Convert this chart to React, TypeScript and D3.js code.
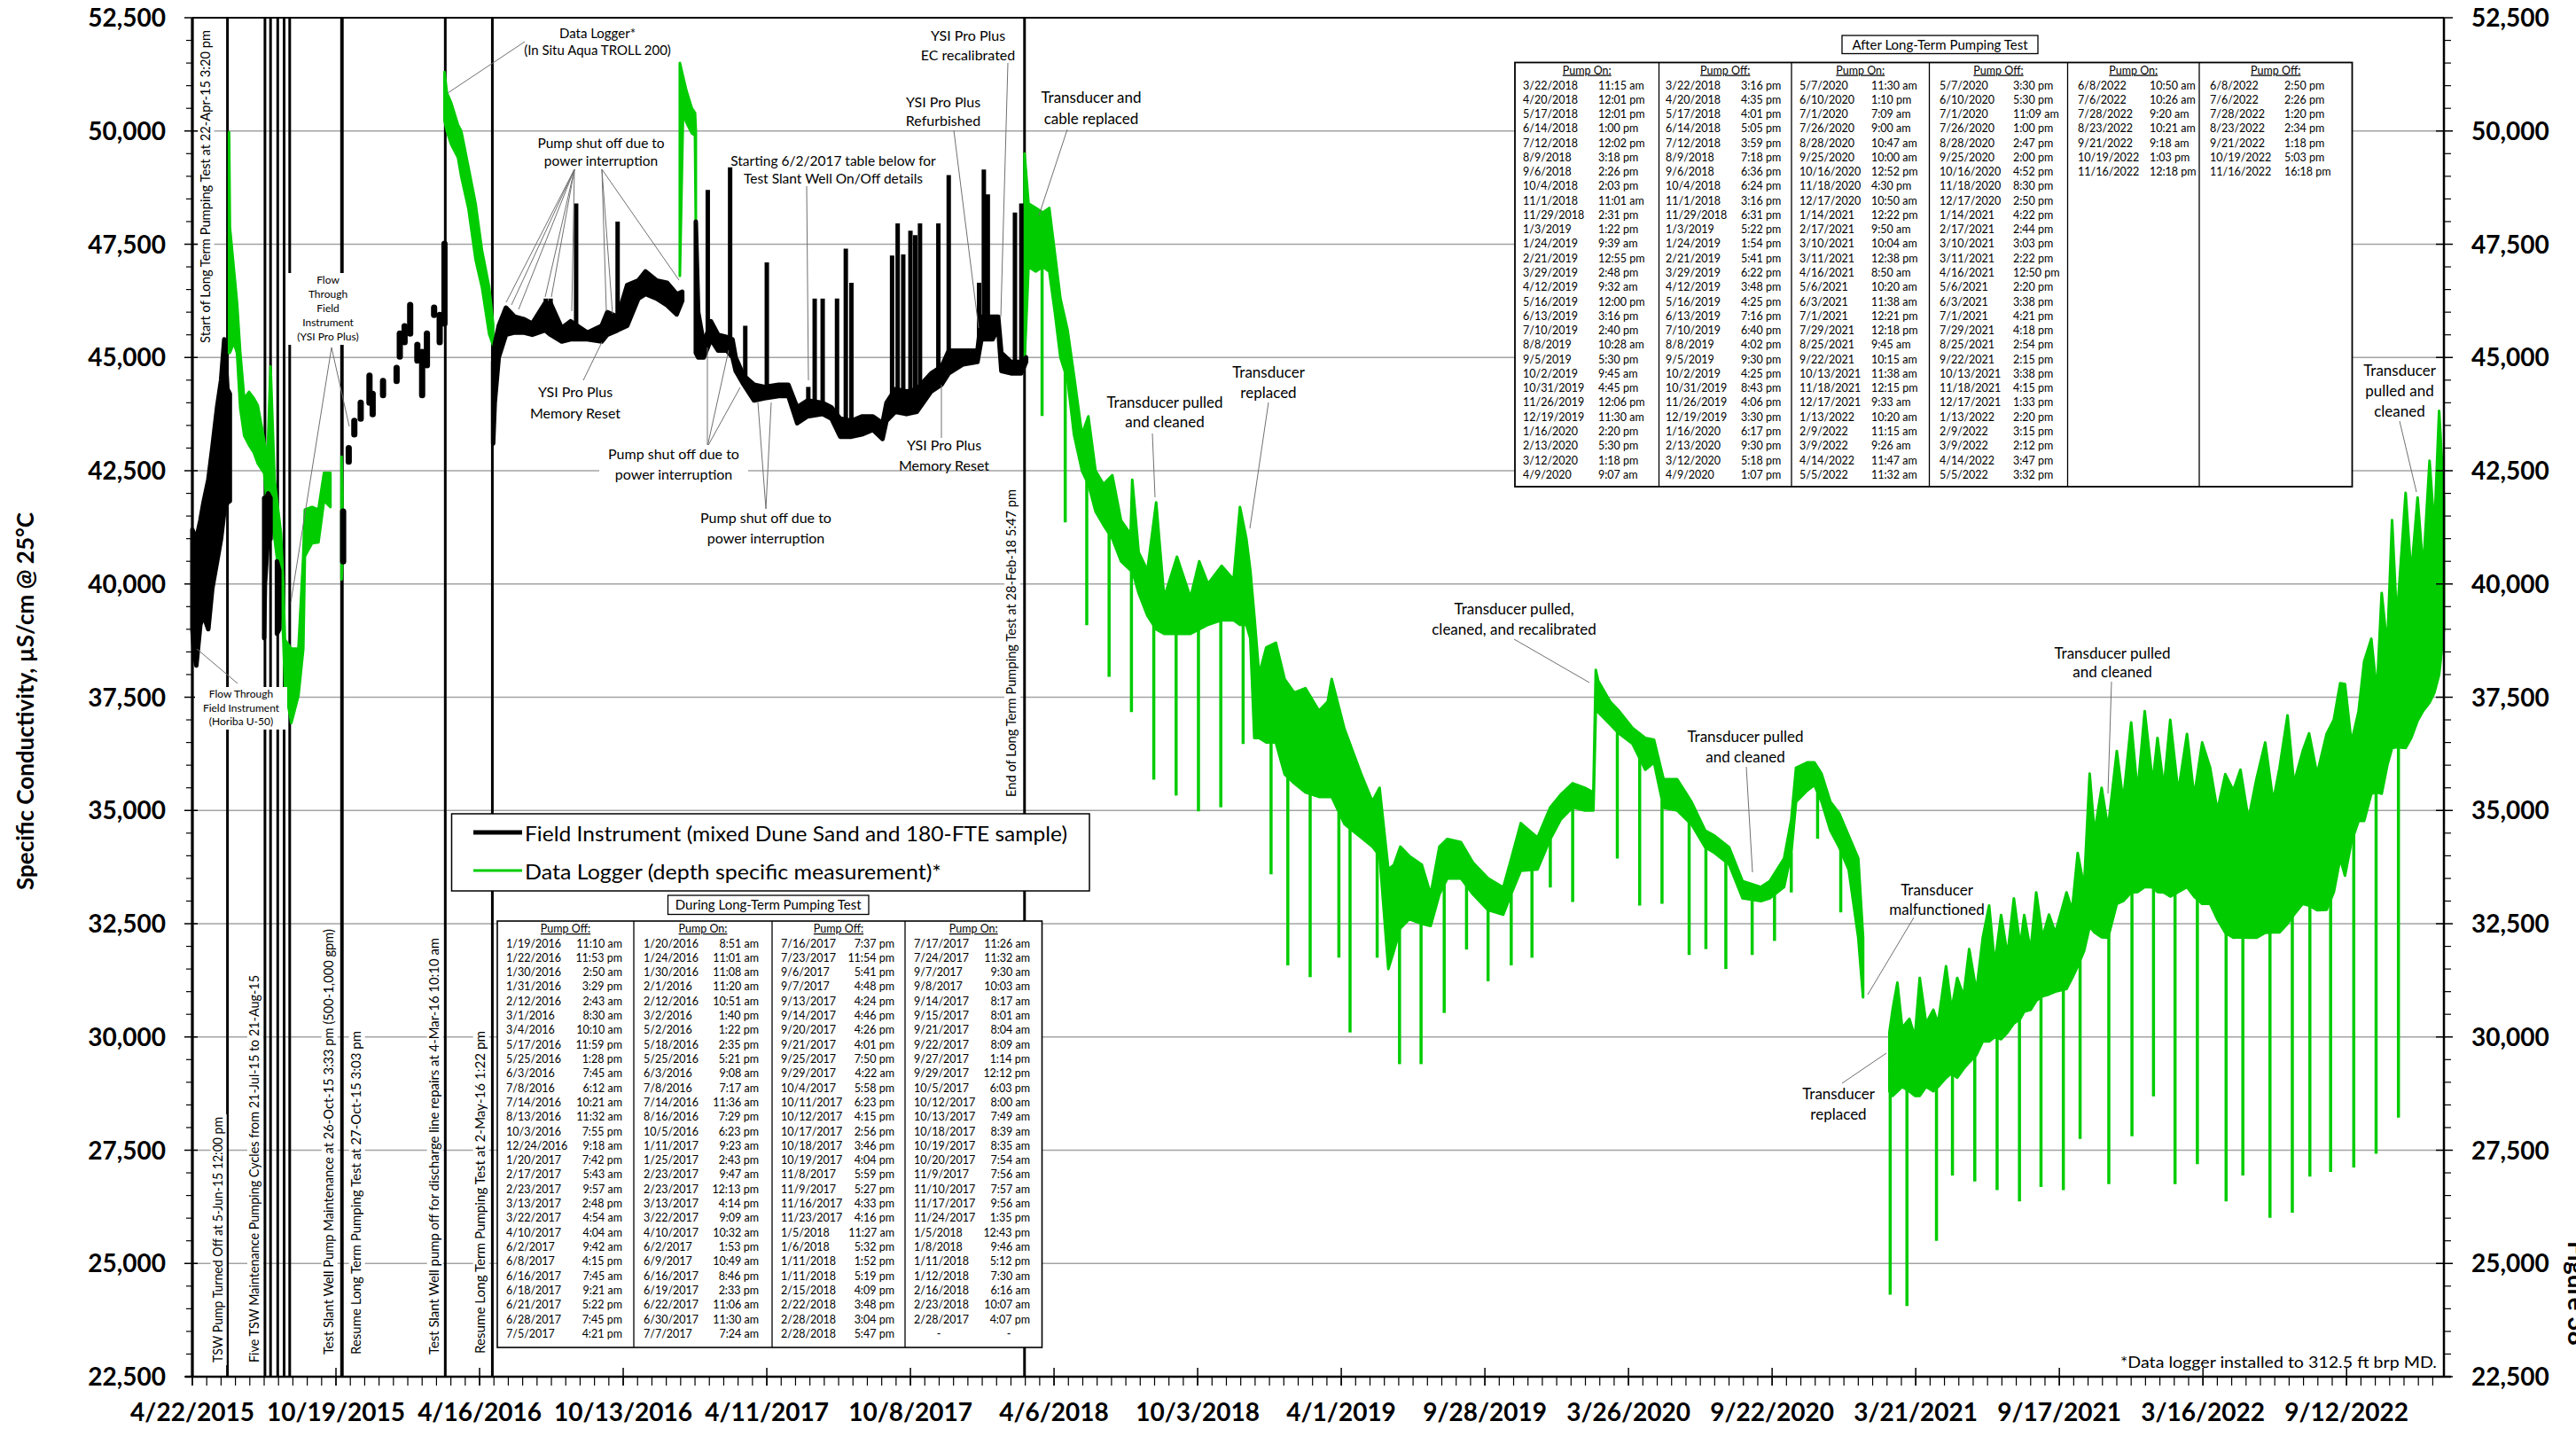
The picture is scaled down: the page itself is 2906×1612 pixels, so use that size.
import React from "react";
import * as d3 from "d3";

type Band = [string, number, number];
type Pt = [string, number];
type Row = [string, string];

// ---------- axis ticks ----------
const yTickValues = [22500, 25000, 27500, 30000, 32500, 35000, 37500, 40000, 42500, 45000, 47500, 50000, 52500];
const xTickLabels = ["4/22/2015", "10/19/2015", "4/16/2016", "10/13/2016", "4/11/2017", "10/8/2017", "4/6/2018", "10/3/2018", "4/1/2019", "9/28/2019", "3/26/2020", "9/22/2020", "3/21/2021", "9/17/2021", "3/16/2022", "9/12/2022"];
const axisStart = "2015-04-22";
const axisEnd = "2023-01-12";

// ---------- event lines ----------
const eventDates = ["2015-04-22", "2015-06-05", "2015-07-22", "2015-07-29", "2015-08-07", "2015-08-15", "2015-08-22", "2015-10-26", "2015-10-27", "2016-03-04", "2016-05-02", "2018-02-28"];

// ---------- Data logger (green) : [date, low, high] ----------
const greenLogger2015: Band[] = [
  ["2015-06-07", 45100, 49970], ["2015-06-08", 45110, 47880], ["2015-06-13", 45320, 46950], ["2015-06-17", 45100, 46200],
  ["2015-06-21", 43890, 45110], ["2015-06-26", 43270, 44090], ["2015-07-02", 43070, 44240], ["2015-07-08", 42900, 44100],
  ["2015-07-13", 42660, 43940], ["2015-07-21", 42450, 43170], ["2015-07-25", 41640, 42660], ["2015-07-29", 41500, 44800],
  ["2015-08-03", 41000, 42300], ["2015-08-11", 39900, 41120], ["2015-08-14", 38800, 40000], ["2015-08-16", 37750, 38770],
  ["2015-08-24", 36930, 38570], ["2015-09-02", 37540, 38570], ["2015-09-08", 38570, 40610], ["2015-09-10", 40610, 41640],
  ["2015-09-19", 40900, 41700], ["2015-09-27", 40920, 41640], ["2015-10-04", 41840, 42450], ["2015-10-12", 41700, 42450],
];
const greenLogger2015Oct: Band[] = [["2015-10-26", 40100, 42810], ["2015-10-27", 40500, 42000]];
const greenLogger2016: Band[] = [
  ["2016-03-03", 50230, 51300], ["2016-03-06", 50000, 50840], ["2016-03-11", 49720, 50640], ["2016-03-20", 49410, 50130],
  ["2016-03-24", 49000, 50000], ["2016-04-02", 48290, 49200], ["2016-04-11", 47160, 48390], ["2016-04-19", 46550, 47360],
  ["2016-04-28", 45520, 46550], ["2016-05-03", 45270, 45730],
];
const greenLogger2016Dec: Band[] = [
  ["2016-12-23", 46800, 51500], ["2016-12-27", 50400, 51200], ["2016-12-31", 50200, 50900], ["2017-01-07", 49950, 50500],
  ["2017-01-11", 49900, 50400], ["2017-01-12", 48000, 50000],
];
const greenLogger2018: Band[] = [
  ["2018-02-28", 44900, 49500], ["2018-03-05", 47000, 48400], ["2018-03-14", 46900, 48300], ["2018-03-23", 47000, 48200],
  ["2018-03-31", 46900, 48300], ["2018-04-07", 46000, 47300], ["2018-04-14", 45000, 46300], ["2018-04-23", 44500, 45600],
  ["2018-05-01", 43300, 44600], ["2018-05-11", 42500, 43300], ["2018-05-19", 42200, 43700], ["2018-05-28", 41600, 42500],
  ["2018-06-07", 41300, 42200], ["2018-06-18", 41000, 42400], ["2018-06-29", 40500, 41400], ["2018-07-11", 40300, 41100],
  ["2018-07-13", 40300, 42300], ["2018-07-21", 39800, 40700], ["2018-08-01", 39300, 40300], ["2018-08-12", 39000, 41800],
  ["2018-08-22", 38900, 39700], ["2018-09-07", 38900, 40600], ["2018-09-24", 38900, 39700], ["2018-10-05", 39000, 40500],
  ["2018-10-16", 39100, 40000], ["2018-11-02", 39200, 40400], ["2018-11-17", 39200, 40100], ["2018-11-25", 39100, 41700],
  ["2018-12-03", 39100, 41000], ["2018-12-08", 38800, 40300], ["2018-12-13", 36600, 39300], ["2018-12-19", 36600, 38000],
  ["2018-12-28", 36500, 38600], ["2019-01-09", 36500, 38700], ["2019-01-20", 35800, 37900], ["2019-02-01", 35600, 37600],
  ["2019-02-15", 35400, 37700], ["2019-03-04", 35300, 37200], ["2019-03-15", 35300, 37400], ["2019-03-20", 35300, 37900],
  ["2019-04-05", 34700, 36800], ["2019-04-26", 34400, 35800], ["2019-05-10", 34200, 35200], ["2019-05-19", 34000, 35500],
  ["2019-05-30", 31500, 33700], ["2019-06-06", 31900, 33800], ["2019-06-14", 32400, 34200], ["2019-06-25", 32600, 34000],
  ["2019-07-11", 32500, 33800], ["2019-07-22", 32450, 33150], ["2019-08-02", 33150, 34200], ["2019-08-12", 33500, 34370],
  ["2019-08-29", 33500, 34300], ["2019-09-13", 33150, 33850], ["2019-10-02", 32800, 33500], ["2019-10-21", 32700, 33300],
  ["2019-11-01", 33200, 34000], ["2019-11-12", 33670, 34720], ["2019-12-03", 33700, 34400], ["2019-12-19", 34370, 35070],
  ["2020-01-01", 34800, 35350], ["2020-01-16", 35070, 35600], ["2020-01-31", 35000, 35500], ["2020-02-11", 35000, 35400],
  ["2020-02-14", 37200, 38100], ["2020-02-17", 37170, 37860], ["2020-03-03", 36900, 37400], ["2020-03-14", 36700, 37200],
  ["2020-03-31", 36470, 36820], ["2020-04-16", 35900, 36600], ["2020-04-27", 36060, 36560], ["2020-05-09", 35060, 35690],
  ["2020-05-26", 35000, 35690], ["2020-06-13", 34690, 35190], ["2020-06-30", 34190, 34560], ["2020-07-12", 34060, 34440],
  ["2020-07-30", 33810, 34190], ["2020-08-16", 33060, 33440], ["2020-09-08", 33000, 33310], ["2020-09-19", 33060, 33440],
  ["2020-10-07", 33310, 33940], ["2020-10-16", 34060, 34800], ["2020-10-22", 35190, 35940], ["2020-11-05", 35440, 36060],
  ["2020-11-14", 35560, 36060], ["2020-11-23", 35190, 35810], ["2020-12-04", 34560, 35190], ["2020-12-15", 34190, 34940],
  ["2020-12-27", 33690, 34440], ["2021-01-08", 32190, 33940], ["2021-01-14", 30875, 32190],
];
const greenLogger2021: Band[] = [
  ["2021-02-16", 28800, 30100], ["2021-02-20", 28700, 30600], ["2021-02-26", 28800, 31200], ["2021-03-04", 28900, 30200],
  ["2021-03-13", 28800, 30400], ["2021-03-20", 28700, 30000], ["2021-03-26", 28700, 31300], ["2021-04-03", 28900, 30300],
  ["2021-04-12", 28800, 30600], ["2021-04-18", 28900, 30300], ["2021-04-28", 29100, 31560], ["2021-05-05", 29200, 30600],
  ["2021-05-12", 29100, 31300], ["2021-05-20", 29300, 30900], ["2021-05-27", 29440, 31940], ["2021-06-05", 29600, 31000],
  ["2021-06-13", 29900, 32190], ["2021-06-21", 29900, 32900], ["2021-06-28", 30000, 31600], ["2021-07-06", 29950, 32690],
  ["2021-07-14", 30100, 31800], ["2021-07-22", 30300, 33060], ["2021-07-30", 30400, 32000], ["2021-08-04", 30560, 32690],
  ["2021-08-12", 30600, 31900], ["2021-08-19", 30800, 33190], ["2021-08-27", 30900, 32200], ["2021-09-04", 30940, 32700],
  ["2021-09-12", 31000, 32300], ["2021-09-26", 31060, 33190], ["2021-10-03", 31300, 32800], ["2021-10-10", 31560, 34060],
  ["2021-10-18", 31900, 33300], ["2021-10-25", 32440, 35810], ["2021-10-31", 32310, 34500], ["2021-11-09", 32200, 35500],
  ["2021-11-17", 32190, 34600], ["2021-11-28", 32940, 36310], ["2021-12-06", 33000, 35200], ["2021-12-16", 33190, 36940],
  ["2021-12-24", 33200, 35400], ["2022-01-02", 33310, 37190], ["2022-01-12", 33300, 35600], ["2022-01-18", 33200, 36600],
  ["2022-01-26", 33190, 35500], ["2022-02-03", 33100, 37000], ["2022-02-13", 33200, 35400], ["2022-02-24", 33310, 36690],
  ["2022-03-05", 33100, 35300], ["2022-03-15", 32940, 36500], ["2022-03-25", 32940, 35940], ["2022-04-03", 32600, 35000],
  ["2022-04-13", 32300, 35800], ["2022-04-23", 32190, 35440], ["2022-05-02", 32200, 35900], ["2022-05-12", 32190, 34800],
  ["2022-05-22", 32190, 35690], ["2022-06-02", 32300, 36500], ["2022-06-12", 32310, 35200], ["2022-06-20", 32310, 35940],
  ["2022-06-30", 32500, 37100], ["2022-07-08", 32700, 35600], ["2022-07-19", 32940, 36310], ["2022-07-27", 32900, 36700],
  ["2022-08-06", 32800, 35800], ["2022-08-18", 32810, 36690], ["2022-08-27", 33200, 37000], ["2022-09-04", 33940, 37810],
  ["2022-09-10", 33560, 37790], ["2022-09-18", 34300, 36500], ["2022-09-27", 34770, 37180], ["2022-10-04", 34770, 38290],
  ["2022-10-13", 35370, 38790], ["2022-10-20", 35400, 37600], ["2022-10-26", 35370, 39800], ["2022-11-02", 36000, 38600],
  ["2022-11-08", 36380, 41410], ["2022-11-14", 36400, 39200], ["2022-11-25", 36380, 42010], ["2022-12-02", 36600, 40200],
  ["2022-12-10", 36980, 41910], ["2022-12-17", 37200, 40300], ["2022-12-25", 37380, 42720], ["2022-12-31", 37600, 41200],
  ["2023-01-06", 38000, 43820], ["2023-01-12", 39000, 41900],
];
// pump-on drops recorded by the logger: [date, value]
const greenSpikes: Pt[] = [
  ["2018-03-22", 43710], ["2018-04-20", 41360], ["2018-05-17", 39090], ["2018-06-14", 37950], ["2018-07-12", 37170],
  ["2018-08-09", 35680], ["2018-09-06", 35330], ["2018-10-04", 34980], ["2018-11-01", 35070], ["2018-11-29", 36470],
  ["2019-01-03", 33590], ["2019-01-24", 31580], ["2019-02-21", 31320], ["2019-03-29", 31750], ["2019-04-12", 30100],
  ["2019-05-16", 31750], ["2019-06-13", 29400], ["2019-07-10", 29400], ["2019-08-08", 30530], ["2019-09-05", 31930],
  ["2019-10-02", 31230], ["2019-10-31", 31580], ["2019-11-26", 31750], ["2019-12-19", 33300], ["2020-01-16", 32980],
  ["2020-03-12", 33940], ["2020-04-09", 32900], ["2020-05-07", 32940], ["2020-06-10", 31810], ["2020-07-01", 31940],
  ["2020-07-26", 31500], ["2020-08-28", 31810], ["2020-09-25", 32120], ["2020-10-16", 33190], ["2020-11-18", 34375],
  ["2020-12-17", 32750], ["2021-02-17", 24310], ["2021-03-10", 24060], ["2021-04-16", 25500], ["2021-05-06", 26940],
  ["2021-06-03", 26810], ["2021-07-01", 26620], ["2021-07-29", 26370], ["2021-08-25", 26690], ["2021-09-22", 26620],
  ["2021-10-13", 27750], ["2021-11-18", 26750], ["2021-12-17", 27810], ["2022-01-13", 28690], ["2022-02-09", 26750],
  ["2022-03-09", 27190], ["2022-04-14", 26370], ["2022-05-05", 26940], ["2022-06-08", 26010], ["2022-07-06", 26120],
  ["2022-07-28", 26920], ["2022-08-23", 27020], ["2022-09-21", 27120], ["2022-10-19", 27420], ["2022-11-16", 28220],
];

// ---------- Field instrument (black) ----------
const fieldInstr2015: Band[] = [
  ["2015-04-22", 39000, 41200], ["2015-04-24", 38500, 41100], ["2015-04-27", 38200, 41000], ["2015-05-02", 39100, 41400],
  ["2015-05-06", 39300, 41800], ["2015-05-12", 39000, 42300], ["2015-05-17", 39900, 43000], ["2015-05-23", 40500, 43900],
  ["2015-05-28", 41000, 44500], ["2015-06-01", 41600, 45400], ["2015-06-05", 41800, 44300], ["2015-06-08", 41830, 44200],
];
const fieldInstrMaintA: Band[] = [["2015-07-21", 38800, 41900], ["2015-07-22", 40000, 41800], ["2015-07-26", 41100, 42000], ["2015-07-29", 41000, 41900]];
const fieldInstrMaintB: Band[] = [["2015-08-06", 38900, 40500], ["2015-08-09", 39000, 40300]];
const fieldInstrDots: Band[] = [
  ["2015-10-28", 40500, 41600], ["2015-11-04", 42700, 43000], ["2015-11-11", 43300, 43600], ["2015-11-19", 43650, 44000],
  ["2015-11-30", 44000, 44600], ["2015-12-04", 43750, 44200], ["2015-12-17", 44170, 44480], ["2016-01-03", 44480, 44770],
  ["2016-01-07", 45020, 45530], ["2016-01-13", 45340, 45690], ["2016-01-20", 45530, 46160], ["2016-01-29", 44930, 45280],
  ["2016-02-04", 44170, 45120], ["2016-02-10", 44830, 45530], ["2016-02-19", 45940, 46100], ["2016-02-26", 45340, 45940],
  ["2016-03-03", 45750, 47510],
];
const fieldInstr2016: Band[] = [
  ["2016-05-03", 43100, 44900], ["2016-05-05", 44000, 45300], ["2016-05-10", 45000, 45700], ["2016-05-19", 45500, 46100],
  ["2016-05-30", 45550, 45900], ["2016-06-10", 45550, 45850], ["2016-06-21", 45500, 45750], ["2016-07-07", 45600, 46200],
  ["2016-07-14", 45500, 46200], ["2016-07-28", 45350, 45650], ["2016-08-08", 45400, 45800], ["2016-08-29", 45400, 45550],
  ["2016-09-16", 45350, 45700], ["2016-09-23", 45500, 46000], ["2016-10-06", 45600, 45900], ["2016-10-18", 45700, 46600],
  ["2016-11-01", 46300, 46700], ["2016-11-10", 46400, 46900], ["2016-11-24", 46300, 46700], ["2016-12-07", 46150, 46650],
  ["2016-12-19", 45950, 46400], ["2016-12-26", 46250, 46450],
];
const fieldInstr2017: Band[] = [
  ["2017-01-12", 45100, 48000], ["2017-01-15", 45000, 46000], ["2017-01-22", 45000, 45300], ["2017-01-31", 45400, 45800],
  ["2017-02-09", 45150, 45500], ["2017-02-20", 45150, 45450], ["2017-02-27", 45000, 45400], ["2017-03-03", 44700, 45000],
  ["2017-03-13", 44400, 44600], ["2017-03-26", 44050, 44400], ["2017-04-08", 44100, 44350], ["2017-04-26", 44150, 44400],
  ["2017-05-08", 44150, 44400], ["2017-05-19", 43550, 43900], ["2017-06-01", 43700, 44050], ["2017-06-20", 43750, 44000],
  ["2017-07-01", 43650, 43900], ["2017-07-12", 43250, 43650], ["2017-07-26", 43250, 43600], ["2017-08-08", 43300, 43700],
  ["2017-08-22", 43400, 43700], ["2017-09-03", 43200, 43550], ["2017-09-08", 43600, 44000], ["2017-09-19", 43800, 44300],
  ["2017-10-03", 43750, 44250], ["2017-10-16", 43800, 44300], ["2017-11-03", 44250, 44650], ["2017-11-16", 44400, 44800],
  ["2017-11-25", 44650, 45150], ["2017-12-13", 44850, 45150], ["2017-12-31", 44900, 45150], ["2018-01-05", 45400, 45900],
  ["2018-01-19", 45400, 45900], ["2018-01-26", 45650, 45900], ["2018-01-30", 44700, 45100], ["2018-02-11", 44650, 44900],
  ["2018-02-24", 44650, 44900], ["2018-03-02", 44900, 45000],
];
const blackSpikes: Pt[] = [
  ["2016-05-19", 46100], ["2016-07-08", 46300], ["2016-07-14", 46300], ["2016-08-15", 48400], ["2016-10-06", 48000],
  ["2017-01-27", 48700], ["2017-02-24", 49200], ["2017-03-15", 45700], ["2017-04-11", 47100], ["2017-06-02", 44350],
  ["2017-06-10", 46300], ["2017-06-20", 46300], ["2017-07-08", 46300], ["2017-07-19", 47400], ["2017-07-26", 46650],
  ["2017-09-15", 47250], ["2017-09-22", 47960], ["2017-09-29", 47275], ["2017-10-08", 47800], ["2017-10-14", 47700],
  ["2017-10-20", 47960], ["2017-11-12", 47960], ["2017-11-25", 49025], ["2018-01-02", 46650], ["2018-01-08", 49150],
  ["2018-01-13", 48600], ["2018-02-16", 48200], ["2018-02-24", 48400],
];

// ---------- tables ----------
const duringOff1: Row[] = [["1/19/2016", "11:10 am"], ["1/22/2016", "11:53 pm"], ["1/30/2016", "2:50 am"], ["1/31/2016", "3:29 pm"], ["2/12/2016", "2:43 am"], ["3/1/2016", "8:30 am"], ["3/4/2016", "10:10 am"], ["5/17/2016", "11:59 pm"], ["5/25/2016", "1:28 pm"], ["6/3/2016", "7:45 am"], ["7/8/2016", "6:12 am"], ["7/14/2016", "10:21 am"], ["8/13/2016", "11:32 am"], ["10/3/2016", "7:55 pm"], ["12/24/2016", "9:18 am"], ["1/20/2017", "7:42 pm"], ["2/17/2017", "5:43 am"], ["2/23/2017", "9:57 am"], ["3/13/2017", "2:48 pm"], ["3/22/2017", "4:54 am"], ["4/10/2017", "4:04 am"], ["6/2/2017", "9:42 am"], ["6/8/2017", "4:15 pm"], ["6/16/2017", "7:45 am"], ["6/18/2017", "9:21 am"], ["6/21/2017", "5:22 pm"], ["6/28/2017", "7:45 pm"], ["7/5/2017", "4:21 pm"]];
const duringOn1: Row[] = [["1/20/2016", "8:51 am"], ["1/24/2016", "11:01 am"], ["1/30/2016", "11:08 am"], ["2/1/2016", "11:20 am"], ["2/12/2016", "10:51 am"], ["3/2/2016", "1:40 pm"], ["5/2/2016", "1:22 pm"], ["5/18/2016", "2:35 pm"], ["5/25/2016", "5:21 pm"], ["6/3/2016", "9:08 am"], ["7/8/2016", "7:17 am"], ["7/14/2016", "11:36 am"], ["8/16/2016", "7:29 pm"], ["10/5/2016", "6:23 pm"], ["1/11/2017", "9:23 am"], ["1/25/2017", "2:43 pm"], ["2/23/2017", "9:47 am"], ["2/23/2017", "12:13 pm"], ["3/13/2017", "4:14 pm"], ["3/22/2017", "9:09 am"], ["4/10/2017", "10:32 am"], ["6/2/2017", "1:53 pm"], ["6/9/2017", "10:49 am"], ["6/16/2017", "8:46 pm"], ["6/19/2017", "2:33 pm"], ["6/22/2017", "11:06 am"], ["6/30/2017", "11:30 am"], ["7/7/2017", "7:24 am"]];
const duringOff2: Row[] = [["7/16/2017", "7:37 pm"], ["7/23/2017", "11:54 pm"], ["9/6/2017", "5:41 pm"], ["9/7/2017", "4:48 pm"], ["9/13/2017", "4:24 pm"], ["9/14/2017", "4:46 pm"], ["9/20/2017", "4:26 pm"], ["9/21/2017", "4:01 pm"], ["9/25/2017", "7:50 pm"], ["9/29/2017", "4:22 am"], ["10/4/2017", "5:58 pm"], ["10/11/2017", "6:23 pm"], ["10/12/2017", "4:15 pm"], ["10/17/2017", "2:56 pm"], ["10/18/2017", "3:46 pm"], ["10/19/2017", "4:04 pm"], ["11/8/2017", "5:59 pm"], ["11/9/2017", "5:27 pm"], ["11/16/2017", "4:33 pm"], ["11/23/2017", "4:16 pm"], ["1/5/2018", "11:27 am"], ["1/6/2018", "5:32 pm"], ["1/11/2018", "1:52 pm"], ["1/11/2018", "5:19 pm"], ["2/15/2018", "4:09 pm"], ["2/22/2018", "3:48 pm"], ["2/28/2018", "3:04 pm"], ["2/28/2018", "5:47 pm"]];
const duringOn2: Row[] = [["7/17/2017", "11:26 am"], ["7/24/2017", "11:32 am"], ["9/7/2017", "9:30 am"], ["9/8/2017", "10:03 am"], ["9/14/2017", "8:17 am"], ["9/15/2017", "8:01 am"], ["9/21/2017", "8:04 am"], ["9/22/2017", "8:09 am"], ["9/27/2017", "1:14 pm"], ["9/29/2017", "12:12 pm"], ["10/5/2017", "6:03 pm"], ["10/12/2017", "8:00 am"], ["10/13/2017", "7:49 am"], ["10/18/2017", "8:39 am"], ["10/19/2017", "8:35 am"], ["10/20/2017", "7:54 am"], ["11/9/2017", "7:56 am"], ["11/10/2017", "7:57 am"], ["11/17/2017", "9:56 am"], ["11/24/2017", "1:35 pm"], ["1/5/2018", "12:43 pm"], ["1/8/2018", "9:46 am"], ["1/11/2018", "5:12 pm"], ["1/12/2018", "7:30 am"], ["2/16/2018", "6:16 am"], ["2/23/2018", "10:07 am"], ["2/28/2017", "4:07 pm"], ["-", "-"]];

const afterOn1: Row[] = [["3/22/2018", "11:15 am"], ["4/20/2018", "12:01 pm"], ["5/17/2018", "12:01 pm"], ["6/14/2018", "1:00 pm"], ["7/12/2018", "12:02 pm"], ["8/9/2018", "3:18 pm"], ["9/6/2018", "2:26 pm"], ["10/4/2018", "2:03 pm"], ["11/1/2018", "11:01 am"], ["11/29/2018", "2:31 pm"], ["1/3/2019", "1:22 pm"], ["1/24/2019", "9:39 am"], ["2/21/2019", "12:55 pm"], ["3/29/2019", "2:48 pm"], ["4/12/2019", "9:32 am"], ["5/16/2019", "12:00 pm"], ["6/13/2019", "3:16 pm"], ["7/10/2019", "2:40 pm"], ["8/8/2019", "10:28 am"], ["9/5/2019", "5:30 pm"], ["10/2/2019", "9:45 am"], ["10/31/2019", "4:45 pm"], ["11/26/2019", "12:06 pm"], ["12/19/2019", "11:30 am"], ["1/16/2020", "2:20 pm"], ["2/13/2020", "5:30 pm"], ["3/12/2020", "1:18 pm"], ["4/9/2020", "9:07 am"]];
const afterOff1: Row[] = [["3/22/2018", "3:16 pm"], ["4/20/2018", "4:35 pm"], ["5/17/2018", "4:01 pm"], ["6/14/2018", "5:05 pm"], ["7/12/2018", "3:59 pm"], ["8/9/2018", "7:18 pm"], ["9/6/2018", "6:36 pm"], ["10/4/2018", "6:24 pm"], ["11/1/2018", "3:16 pm"], ["11/29/2018", "6:31 pm"], ["1/3/2019", "5:22 pm"], ["1/24/2019", "1:54 pm"], ["2/21/2019", "5:41 pm"], ["3/29/2019", "6:22 pm"], ["4/12/2019", "3:48 pm"], ["5/16/2019", "4:25 pm"], ["6/13/2019", "7:16 pm"], ["7/10/2019", "6:40 pm"], ["8/8/2019", "4:02 pm"], ["9/5/2019", "9:30 pm"], ["10/2/2019", "4:25 pm"], ["10/31/2019", "8:43 pm"], ["11/26/2019", "4:06 pm"], ["12/19/2019", "3:30 pm"], ["1/16/2020", "6:17 pm"], ["2/13/2020", "9:30 pm"], ["3/12/2020", "5:18 pm"], ["4/9/2020", "1:07 pm"]];
const afterOn2: Row[] = [["5/7/2020", "11:30 am"], ["6/10/2020", "1:10 pm"], ["7/1/2020", "7:09 am"], ["7/26/2020", "9:00 am"], ["8/28/2020", "10:47 am"], ["9/25/2020", "10:00 am"], ["10/16/2020", "12:52 pm"], ["11/18/2020", "4:30 pm"], ["12/17/2020", "10:50 am"], ["1/14/2021", "12:22 pm"], ["2/17/2021", "9:50 am"], ["3/10/2021", "10:04 am"], ["3/11/2021", "12:38 pm"], ["4/16/2021", "8:50 am"], ["5/6/2021", "10:20 am"], ["6/3/2021", "11:38 am"], ["7/1/2021", "12:21 pm"], ["7/29/2021", "12:18 pm"], ["8/25/2021", "9:45 am"], ["9/22/2021", "10:15 am"], ["10/13/2021", "11:38 am"], ["11/18/2021", "12:15 pm"], ["12/17/2021", "9:33 am"], ["1/13/2022", "10:20 am"], ["2/9/2022", "11:15 am"], ["3/9/2022", "9:26 am"], ["4/14/2022", "11:47 am"], ["5/5/2022", "11:32 am"]];
const afterOff2: Row[] = [["5/7/2020", "3:30 pm"], ["6/10/2020", "5:30 pm"], ["7/1/2020", "11:09 am"], ["7/26/2020", "1:00 pm"], ["8/28/2020", "2:47 pm"], ["9/25/2020", "2:00 pm"], ["10/16/2020", "4:52 pm"], ["11/18/2020", "8:30 pm"], ["12/17/2020", "2:50 pm"], ["1/14/2021", "4:22 pm"], ["2/17/2021", "2:44 pm"], ["3/10/2021", "3:03 pm"], ["3/11/2021", "2:22 pm"], ["4/16/2021", "12:50 pm"], ["5/6/2021", "2:20 pm"], ["6/3/2021", "3:38 pm"], ["7/1/2021", "4:21 pm"], ["7/29/2021", "4:18 pm"], ["8/25/2021", "2:54 pm"], ["9/22/2021", "2:15 pm"], ["10/13/2021", "3:38 pm"], ["11/18/2021", "4:15 pm"], ["12/17/2021", "1:33 pm"], ["1/13/2022", "2:20 pm"], ["2/9/2022", "3:15 pm"], ["3/9/2022", "2:12 pm"], ["4/14/2022", "3:47 pm"], ["5/5/2022", "3:32 pm"]];
const afterOn3: Row[] = [["6/8/2022", "10:50 am"], ["7/6/2022", "10:26 am"], ["7/28/2022", "9:20 am"], ["8/23/2022", "10:21 am"], ["9/21/2022", "9:18 am"], ["10/19/2022", "1:03 pm"], ["11/16/2022", "12:18 pm"]];
const afterOff3: Row[] = [["6/8/2022", "2:50 pm"], ["7/6/2022", "2:26 pm"], ["7/28/2022", "1:20 pm"], ["8/23/2022", "2:34 pm"], ["9/21/2022", "1:18 pm"], ["10/19/2022", "5:03 pm"], ["11/16/2022", "16:18 pm"]];

// ---------- texts ----------
const rotatedLabels = [
  "Start of Long Term Pumping Test at 22-Apr-15 3:20 pm",
  "TSW Pump Turned Off at 5-Jun-15 12:00 pm",
  "Five TSW Maintenance Pumping Cycles from 21-Jul-15 to 21-Aug-15",
  "Test Slant Well Pump Maintenance at 26-Oct-15 3:33 pm (500-1,000 gpm)",
  "Resume Long Term Pumping Test at 27-Oct-15 3:03 pm",
  "Test Slant Well pump off for discharge line repairs at 4-Mar-16 10:10 am",
  "Resume Long Term Pumping Test at 2-May-16 1:22 pm",
  "End of Long Term Pumping Test at 28-Feb-18 5:47 pm",
];
const legendLabels = ["Field Instrument (mixed Dune Sand and 180-FTE sample)", "Data Logger (depth specific measurement)*"];

const iso = d3.utcParse("%Y-%m-%d");
const mdy = d3.utcParse("%m/%d/%Y");
const GREEN = "#00cc00";
const FONT = "Lato, 'Noto Sans', 'DejaVu Sans', sans-serif";

function bandAt(segs: Band[][], t: Date): [number, number] | null {
  for (const seg of segs) {
    const t0 = iso(seg[0][0])!, t1 = iso(seg[seg.length - 1][0])!;
    if (t < t0 || t > t1) continue;
    const i = d3.bisector((d: Band) => +iso(d[0])!).left(seg, +t);
    if (i === 0) return [seg[0][1], seg[0][2]];
    const a = seg[i - 1], b = seg[i];
    const ta = +iso(a[0])!, tb = +iso(b[0])!;
    const f = tb === ta ? 1 : (+t - ta) / (tb - ta);
    return [a[1] + f * (b[1] - a[1]), a[2] + f * (b[2] - a[2])];
  }
  return null;
}

export default function App() {
  const W = 2906, H = 1612;
  const L = 217, R = 2757, T = 20, B = 1553;
  const x = d3.scaleUtc().domain([iso(axisStart)!, iso(axisEnd)!]).range([L, R]);
  const y = d3.scaleLinear().domain([22500, 52500]).range([B, T]);
  const area = d3.area<Band>().x(d => x(iso(d[0])!)).y0(d => y(d[1])).y1(d => y(d[2]));

  const greenSegs = [greenLogger2015, greenLogger2015Oct, greenLogger2016, greenLogger2016Dec, greenLogger2018, greenLogger2021];
  const blackSegs = [fieldInstr2015, fieldInstrMaintA, fieldInstrMaintB, fieldInstr2016, fieldInstr2017];

  const minorY = d3.range(22500, 52501, 500).filter(v => v % 2500 !== 0);
  const start = iso(axisStart)!;
  const totalDays = d3.utcDay.count(start, iso(axisEnd)!);
  const minorX = d3.range(0, totalDays + 1, 18).map(k => d3.utcDay.offset(start, k));
  const majorX = xTickLabels.map(s => mdy(s)!);

  const spikeLine = (segs: Band[][], p: Pt) => {
    const t = iso(p[0])!;
    const b = bandAt(segs, t);
    if (!b) return null;
    const base = p[1] < b[0] ? b[0] : b[1];
    return { x: x(t), y1: y(base), y2: y(p[1]) };
  };

  // rotated label layout: [baseline x, bottom y, length]
  const rotLayout: [number, number, number][] = [
    [236.5, 387, 353], [250.7, 1537, 277], [292, 1537, 437], [375.7, 1528, 480],
    [406.7, 1528, 365], [494.7, 1528, 470], [546.7, 1527, 364], [1146, 899, 347],
  ];

  const annotations: { lines: string[]; x: number; ys: number[]; size: number; bg?: boolean }[] = [
    { lines: ["Data Logger*", "(In Situ Aqua TROLL 200)"], x: 674, ys: [43, 62], size: 15 },
    { lines: ["Pump shut off due to", "power interruption"], x: 678, ys: [167, 187], size: 15.5 },
    { lines: ["YSI Pro Plus", "Memory Reset"], x: 649, ys: [448, 472], size: 16 },
    { lines: ["Pump shut off due to", "power interruption"], x: 760, ys: [518, 541], size: 16, bg: true },
    { lines: ["Pump shut off due to", "power interruption"], x: 864, ys: [590, 613], size: 16 },
    { lines: ["Starting 6/2/2017 table below for", "Test Slant Well On/Off details"], x: 940, ys: [187, 207], size: 15.5 },
    { lines: ["YSI Pro Plus", "EC recalibrated"], x: 1092, ys: [46, 68], size: 16 },
    { lines: ["YSI Pro Plus", "Refurbished"], x: 1064, ys: [121, 142], size: 16 },
    { lines: ["YSI Pro Plus", "Memory Reset"], x: 1065, ys: [508, 531], size: 16 },
    { lines: ["Flow", "Through", "Field", "Instrument", "(YSI Pro Plus)"], x: 370, ys: [320, 336, 352, 368, 384], size: 12, bg: true },
    { lines: ["Flow Through", "Field Instrument", "(Horiba U-50)"], x: 272, ys: [787, 803, 818], size: 12, bg: true },
    { lines: ["Transducer and", "cable replaced"], x: 1231, ys: [116, 140], size: 17 },
    { lines: ["Transducer pulled", "and cleaned"], x: 1314, ys: [460, 482], size: 17 },
    { lines: ["Transducer", "replaced"], x: 1431, ys: [426, 449], size: 17 },
    { lines: ["Transducer pulled,", "cleaned, and recalibrated"], x: 1708, ys: [693, 716], size: 17 },
    { lines: ["Transducer pulled", "and cleaned"], x: 1969, ys: [837, 860], size: 17 },
    { lines: ["Transducer", "malfunctioned"], x: 2185, ys: [1010, 1032], size: 17 },
    { lines: ["Transducer", "replaced"], x: 2074, ys: [1240, 1263], size: 17 },
    { lines: ["Transducer pulled", "and cleaned"], x: 2383, ys: [743, 764], size: 17 },
    { lines: ["Transducer", "pulled and", "cleaned"], x: 2707, ys: [424, 447, 470], size: 17 },
  ];
  const leaders: number[][] = [
    [592, 47, 505, 105],
    [648, 191, 571, 341], [648, 191, 577, 344], [648, 191, 585, 349], [648, 191, 615, 335], [648, 191, 622, 335], [648, 191, 645, 351],
    [679, 191, 684, 351], [679, 191, 691, 354], [679, 191, 766, 316],
    [658, 429, 679, 386],
    [798, 504, 798, 392], [798, 504, 822, 395], [798, 504, 835, 437],
    [864, 574, 855, 454], [864, 574, 870, 454],
    [910, 210, 912, 429],
    [1137, 71, 1129, 357],
    [1076, 147, 1104, 370],
    [1062, 494, 1062, 434],
    [374, 392, 328, 680], [374, 392, 394, 481],
    [268, 771, 222, 732],
    [1204, 146, 1172, 243],
    [1300, 489, 1303, 561],
    [1431, 454, 1410, 596],
    [1708, 721, 1793, 770],
    [1970, 865, 1977, 984],
    [2159, 1035, 2107, 1122],
    [2078, 1222, 2128, 1188],
    [2382, 769, 2378, 895],
    [2707, 475, 2726, 555],
  ];

  const duringCols = [
    { header: "Pump Off:", rows: duringOff1, left: 561, right: 715, dateX: 571, timeX: 702 },
    { header: "Pump On:", rows: duringOn1, left: 715, right: 871, dateX: 726, timeX: 856 },
    { header: "Pump Off:", rows: duringOff2, left: 871, right: 1021, dateX: 881, timeX: 1009 },
    { header: "Pump On:", rows: duringOn2, left: 1021, right: 1175.5, dateX: 1031, timeX: 1162 },
  ];
  const afterCols = [
    { header: "Pump On:", rows: afterOn1, left: 1709, right: 1871.5, dateX: 1718, timeX: 1803 },
    { header: "Pump Off:", rows: afterOff1, left: 1871.5, right: 2021, dateX: 1879, timeX: 1964 },
    { header: "Pump On:", rows: afterOn2, left: 2021, right: 2176.5, dateX: 2030, timeX: 2111 },
    { header: "Pump Off:", rows: afterOff2, left: 2176.5, right: 2332.5, dateX: 2188, timeX: 2271 },
    { header: "Pump On:", rows: afterOn3, left: 2332.5, right: 2481, dateX: 2344, timeX: 2425 },
    { header: "Pump Off:", rows: afterOff3, left: 2481, right: 2653.5, dateX: 2493, timeX: 2577 },
  ];

  return (
    <svg width={W} height={H} style={{ position: "absolute", left: 0, top: 0 }} fontFamily={FONT}>
      <rect width={W} height={H} fill="#fff" />
      {/* gridlines */}
      {yTickValues.filter(v => v > 22500 && v < 52500).map(v => (
        <line key={"g" + v} x1={L} x2={R} y1={y(v)} y2={y(v)} stroke="#a3a3a3" strokeWidth={1.3} />
      ))}
      {/* event lines */}
      {eventDates.map((d, i) => (
        <line key={"ev" + i} x1={x(iso(d)!)} x2={x(iso(d)!)} y1={T} y2={B} stroke="#000" strokeWidth={3} />
      ))}
      {/* green data logger */}
      {greenSegs.map((seg, i) => (
        <path key={"ga" + i} d={area(seg)!} fill={GREEN} stroke={GREEN} strokeWidth={3} strokeLinejoin="round" />
      ))}
      {greenSpikes.map((p, i) => {
        const s = spikeLine(greenSegs, p);
        return s ? <line key={"gs" + i} x1={s.x} x2={s.x} y1={s.y1} y2={s.y2} stroke={GREEN} strokeWidth={3.5} /> : null;
      })}
      {/* black field instrument */}
      {blackSegs.map((seg, i) => (
        <path key={"ba" + i} d={area(seg)!} fill="#000" stroke="#000" strokeWidth={5} strokeLinejoin="round" />
      ))}
      {fieldInstrDots.map((d, i) => (
        <line key={"bd" + i} x1={x(iso(d[0])!)} x2={x(iso(d[0])!)} y1={y(d[1])} y2={y(d[2])} stroke="#000" strokeWidth={7} strokeLinecap="round" />
      ))}
      {blackSpikes.map((p, i) => {
        const s = spikeLine(blackSegs, p);
        return s ? <line key={"bs" + i} x1={s.x} x2={s.x} y1={s.y1} y2={s.y2} stroke="#000" strokeWidth={5} /> : null;
      })}

      {/* axes */}
      <line x1={L} x2={R} y1={T} y2={T} stroke="#000" strokeWidth={2} />
      <line x1={L} x2={L} y1={T} y2={B} stroke="#000" strokeWidth={2.5} />
      <line x1={R} x2={R} y1={T} y2={B} stroke="#000" strokeWidth={2.5} />
      <line x1={L - 8} x2={R + 8} y1={B} y2={B} stroke="#000" strokeWidth={2.5} />
      {yTickValues.map(v => (
        <g key={"yt" + v}>
          <line x1={L - 9} x2={L + 6} y1={y(v)} y2={y(v)} stroke="#000" strokeWidth={1.5} />
          <line x1={R - 9} x2={R + 10} y1={y(v)} y2={y(v)} stroke="#000" strokeWidth={1.5} />
          <text x={187} y={y(v) + 10} textAnchor="end" fontSize={28} fontWeight={700}>{d3.format(",")(v)}</text>
          <text x={2788} y={y(v) + 10} textAnchor="start" fontSize={28} fontWeight={700}>{d3.format(",")(v)}</text>
        </g>
      ))}
      {minorY.map(v => (
        <g key={"ym" + v}>
          <line x1={L - 7} x2={L} y1={y(v)} y2={y(v)} stroke="#000" strokeWidth={1.2} />
          <line x1={R} x2={R + 8} y1={y(v)} y2={y(v)} stroke="#000" strokeWidth={1.2} />
        </g>
      ))}
      {minorX.map((d, i) => (
        <line key={"xm" + i} x1={x(d)} x2={x(d)} y1={B} y2={B + 10} stroke="#000" strokeWidth={1.2} />
      ))}
      {majorX.map((d, i) => (
        <g key={"xt" + i}>
          <line x1={x(d)} x2={x(d)} y1={B - 10} y2={B + 10} stroke="#000" strokeWidth={1.5} />
          <text x={x(d)} y={1603} textAnchor="middle" fontSize={28} fontWeight={700}>{xTickLabels[i]}</text>
        </g>
      ))}
      <text transform="translate(38,791) rotate(-90)" textAnchor="middle" fontSize={26} fontWeight={700}>Specific Conductivity, µS/cm @ 25°C</text>
      <text transform="translate(2897,1400) rotate(90)" textAnchor="start" fontSize={28} fontWeight={700}>Figure 38</text>

      {/* leaders */}
      {leaders.map((l, i) => (
        <line key={"ld" + i} x1={l[0]} y1={l[1]} x2={l[2]} y2={l[3]} stroke="#707070" strokeWidth={1} />
      ))}
      {/* rotated event labels */}
      {rotatedLabels.map((t, i) => {
        const [bx, by, len] = rotLayout[i];
        return (
          <g key={"rl" + i}>
            <rect x={bx - 13} y={by - len - 3} width={18} height={len + 6} fill="#fff" />
            <text transform={`translate(${bx},${by}) rotate(-90)`} fontSize={15.5} textLength={len} lengthAdjust="spacingAndGlyphs">{t}</text>
          </g>
        );
      })}
      {/* annotations */}
      {annotations.map((a, i) => {
        const w = Math.max(...a.lines.map(s => s.length)) * a.size * 0.5 + 8;
        return (
          <g key={"an" + i}>
            {a.bg && <rect x={a.x - w / 2} y={a.ys[0] - a.size} width={w} height={a.ys[a.ys.length - 1] - a.ys[0] + a.size + 5} fill="#fff" />}
            {a.lines.map((s, j) => (
              <text key={j} x={a.x} y={a.ys[j]} textAnchor="middle" fontSize={a.size}>{s}</text>
            ))}
          </g>
        );
      })}
      <text x={2749} y={1543} textAnchor="end" fontSize={18} textLength={357} lengthAdjust="spacingAndGlyphs">*Data logger installed to 312.5 ft brp MD.</text>

      {/* legend */}
      <rect x={509.5} y={918} width={719.5} height={87} fill="#fff" stroke="#000" strokeWidth={1.5} />
      <line x1={534} x2={589} y1={939} y2={939} stroke="#000" strokeWidth={5} />
      <line x1={534} x2={589} y1={982} y2={982} stroke={GREEN} strokeWidth={3} />
      <text x={592} y={949} fontSize={24} textLength={612} lengthAdjust="spacingAndGlyphs">{legendLabels[0]}</text>
      <text x={592} y={992} fontSize={24} textLength={470} lengthAdjust="spacingAndGlyphs">{legendLabels[1]}</text>

      {/* During table */}
      <rect x={753.5} y={1010} width={226.5} height={21.5} fill="#fff" stroke="#000" strokeWidth={1.3} />
      <text x={866.7} y={1026} textAnchor="middle" fontSize={15}>During Long-Term Pumping Test</text>
      <rect x={561} y={1039} width={614.5} height={481} fill="#fff" stroke="#000" strokeWidth={1.6} />
      {duringCols.map((c, ci) => (
        <g key={"dc" + ci} fontSize={12.5}>
          {ci > 0 && <line x1={c.left} x2={c.left} y1={1039} y2={1520} stroke="#000" strokeWidth={1.3} />}
          <text x={(c.left + c.right) / 2} y={1052} textAnchor="middle" textDecoration="underline">{c.header}</text>
          {c.rows.map((r, ri) => (
            <g key={ri}>
              {r[0] === "-" ? (
                <>
                  <text x={c.dateX + 28} y={1068.5 + ri * 16.31} textAnchor="middle">-</text>
                  <text x={c.timeX - 24} y={1068.5 + ri * 16.31} textAnchor="middle">-</text>
                </>
              ) : (
                <>
                  <text x={c.dateX} y={1068.5 + ri * 16.31}>{r[0]}</text>
                  <text x={c.timeX} y={1068.5 + ri * 16.31} textAnchor="end">{r[1]}</text>
                </>
              )}
            </g>
          ))}
        </g>
      ))}

      {/* After table */}
      <rect x={2078} y={40} width={221} height={20.5} fill="#fff" stroke="#000" strokeWidth={1.3} />
      <text x={2188.5} y={56} textAnchor="middle" fontSize={15}>After Long-Term Pumping Test</text>
      <rect x={1709} y={70.5} width={944.5} height={478.5} fill="#fff" stroke="#000" strokeWidth={1.8} />
      {afterCols.map((c, ci) => (
        <g key={"ac" + ci} fontSize={12.5}>
          {ci > 0 && <line x1={c.left} x2={c.left} y1={70.5} y2={549} stroke="#000" strokeWidth={1.3} />}
          <text x={(c.left + c.right) / 2} y={83.5} textAnchor="middle" textDecoration="underline">{c.header}</text>
          {c.rows.map((r, ri) => (
            <g key={ri}>
              <text x={c.dateX} y={100.5 + ri * 16.27}>{r[0]}</text>
              <text x={c.timeX} y={100.5 + ri * 16.27}>{r[1]}</text>
            </g>
          ))}
        </g>
      ))}
    </svg>
  );
}
